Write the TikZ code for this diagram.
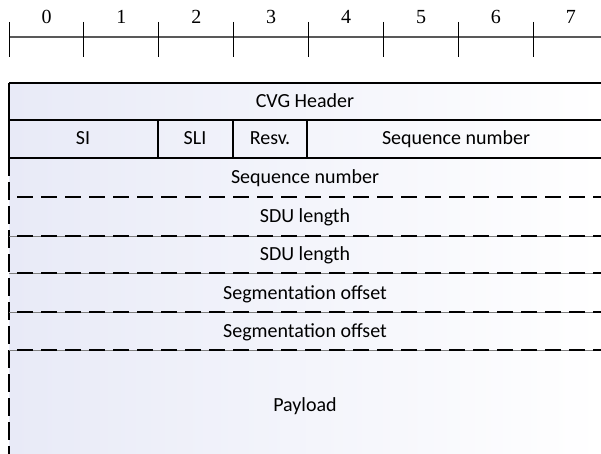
\documentclass[tikz,border=0pt]{standalone}
\usepackage{fontspec}
\newfontfamily\fieldfont{Carlito}
\newfontfamily\bitfont{Liberation Serif}
\definecolor{lavender}{RGB}{232,234,247}
\tikzstyle{field}=[font=\fieldfont\fontsize{20}{22}\selectfont, inner sep=0pt, anchor=base]
\tikzstyle{bitnum}=[font=\bitfont\fontsize{20}{22}\selectfont, inner sep=0pt]
\tikzstyle{border}=[line width=1.8pt]
\tikzstyle{rowsep}=[line width=1.8pt, dash pattern=on 16pt off 8pt, dash phase=16pt]
\tikzstyle{thinsep}=[line width=0.6pt, gray]

\begin{document}
\begin{tikzpicture}[x=1pt, y=-1pt]
\useasboundingbox (0,0) rectangle (601,454);
% bit ruler
\draw[gray!70!black, line width=1.2pt] (9,37) -- (601,37);
\foreach \i in {0,...,7} {
  \draw[line width=1pt] (9+74.9*\i,22) -- (9+74.9*\i,57);
  \node[bitnum] (bit\i) at (46.5+74.9*\i,17) {\i};
}
% frame background
\shade[left color=lavender, right color=white] (9,83) rectangle (601,454);
% header rows
\draw[border] (9,83) -- (601,83);
\draw[border] (9,120) -- (601,120);
\draw[border] (9,158) -- (601,158);
\draw[border] (9,83) -- (9,158);
\draw[border] (158,120) -- (158,158);
\draw[border] (233,120) -- (233,158);
\draw[border] (307,120) -- (307,158);
\draw[line width=1.8pt, dash pattern=on 18pt off 6pt] (9,158) -- (9,454);
% field separators
\foreach \y in {236,273,312,350}
  \draw[thinsep] (9,\y) -- (601,\y);
\foreach \y in {197,236,273,312,350}
  \draw[rowsep] (9,\y) -- (601,\y);

\node[field] (hdr) at (305,107.5) {CVG Header};
\node[field] (si) at (83,145) {SI};
\node[field] (sli) at (195,145) {SLI};
\node[field] (resv) at (270,145) {Resv.};
\node[field] (seqa) at (456,145) {Sequence number};
\node[field] (seqb) at (305,184) {Sequence number};
\node[field] (sdua) at (305,222) {SDU length};
\node[field] (sdub) at (305,260) {SDU length};
\node[field] (sega) at (305,299) {Segmentation offset};
\node[field] (segb) at (305,337) {Segmentation offset};
\node[field] (pay) at (305,411) {Payload};
\end{tikzpicture}
\end{document}
